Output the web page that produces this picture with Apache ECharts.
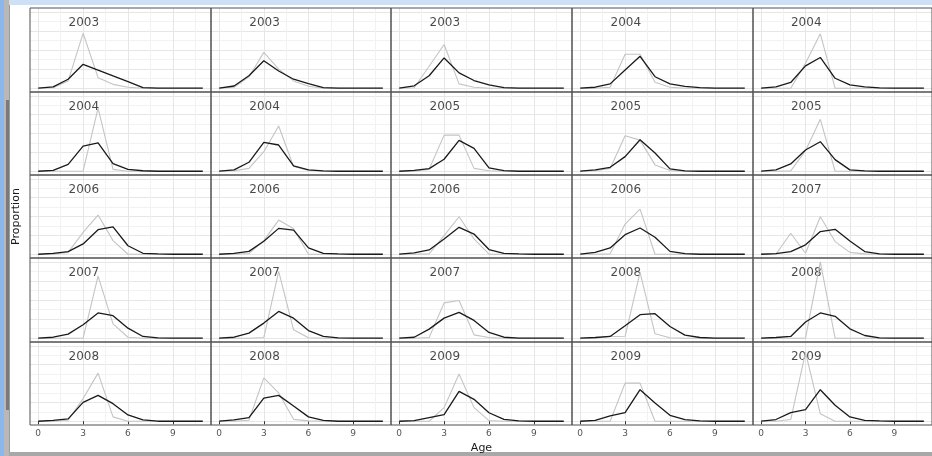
<!DOCTYPE html>
<html>
<head>
<meta charset="utf-8">
<script src="https://cdn.jsdelivr.net/npm/echarts@6/dist/echarts.min.js"></script>
<style>
html, body { margin: 0; padding: 0; background: #fff; }
#chart { width: 932px; height: 456px; }
</style>
</head>
<body>
<div id="chart"></div>
<script>
// ages on the x axis
var ages = [0, 1, 2, 3, 4, 5, 6, 7, 8, 9, 10, 11];
var ageTicks = [0, 3, 6, 9];
var ageMinor = [1.5, 4.5, 7.5, 10.5];
var propTicks = [0, 0.2, 0.4, 0.6, 0.8];
var propMinor = [0.1, 0.3, 0.5, 0.7];

// one year label per panel, row by row
var panelYears = [
    '2003', '2003', '2003', '2004', '2004',
    '2004', '2004', '2005', '2005', '2005',
    '2006', '2006', '2006', '2006', '2007',
    '2007', '2007', '2007', '2008', '2008',
    '2008', '2008', '2009', '2009', '2009'
];

// grey line (observed proportion at age)
var observed = [
    [0, 0.005, 0.076, 0.575, 0.11, 0.04, 0.01, 0, 0, 0, 0, 0],
    [0, 0.01, 0.118, 0.375, 0.2, 0.076, 0.02, 0, 0, 0, 0, 0],
    [0, 0.005, 0.23, 0.458, 0.045, 0.01, 0, 0, 0, 0, 0, 0],
    [0, 0, 0.01, 0.355, 0.355, 0.063, 0.01, 0, 0, 0, 0, 0],
    [0, 0, 0, 0.26, 0.57, 0, 0, 0, 0, 0, 0, 0],

    [0, 0, 0, 0, 0.67, 0.02, 0, 0, 0, 0, 0, 0],
    [0, 0.005, 0.03, 0.207, 0.48, 0.05, 0.01, 0, 0, 0, 0, 0],
    [0, 0, 0.02, 0.383, 0.383, 0.03, 0.005, 0, 0, 0, 0, 0],
    [0, 0.005, 0.03, 0.376, 0.33, 0.067, 0.007, 0, 0, 0, 0, 0],
    [0, 0, 0.004, 0.218, 0.55, 0, 0, 0, 0, 0, 0, 0],

    [0, 0, 0.02, 0.232, 0.415, 0.144, 0, 0, 0, 0, 0, 0],
    [0, 0, 0.007, 0.144, 0.362, 0.27, 0, 0, 0, 0, 0, 0],
    [0, 0, 0.004, 0.197, 0.397, 0.162, 0, 0, 0, 0, 0, 0],
    [0, 0, 0.004, 0.32, 0.478, 0, 0, 0, 0, 0, 0, 0],
    [0, 0, 0.222, 0.01, 0.397, 0.134, 0.02, 0.004, 0, 0, 0, 0],

    [0, 0, 0, 0, 0.65, 0.15, 0.01, 0, 0, 0, 0, 0],
    [0, 0, 0, 0.007, 0.70, 0.088, 0.004, 0, 0, 0, 0, 0],
    [0, 0, 0.007, 0.37, 0.394, 0.035, 0.007, 0, 0, 0, 0, 0],
    [0, 0, 0.018, 0.02, 0.69, 0.046, 0.004, 0, 0, 0, 0, 0],
    [0, 0, 0, 0, 0.80, 0, 0, 0, 0, 0, 0, 0],

    [0, 0, 0.01, 0.24, 0.51, 0.046, 0, 0, 0, 0, 0, 0],
    [0, 0, 0.01, 0.46, 0.30, 0.02, 0.004, 0, 0, 0, 0, 0],
    [0, 0, 0, 0.144, 0.5, 0.144, 0.007, 0, 0, 0, 0, 0],
    [0, 0, 0, 0.404, 0.404, 0, 0, 0, 0, 0, 0, 0],
    [0, 0, 0.018, 0.73, 0.08, 0, 0, 0, 0, 0, 0, 0]
];

// black line (fitted proportion at age)
var fitted = [
    [0, 0.013, 0.094, 0.25, 0.19, 0.129, 0.069, 0.005, 0, 0, 0, 0],
    [0, 0.023, 0.13, 0.287, 0.18, 0.094, 0.048, 0.005, 0, 0, 0, 0],
    [0, 0.025, 0.13, 0.317, 0.16, 0.08, 0.035, 0.005, 0, 0, 0, 0],
    [0, 0.01, 0.045, 0.19, 0.334, 0.12, 0.045, 0.018, 0.005, 0, 0, 0],
    [0, 0.014, 0.06, 0.234, 0.322, 0.104, 0.034, 0.014, 0.004, 0, 0, 0],

    [0, 0.01, 0.073, 0.267, 0.30, 0.08, 0.02, 0.005, 0, 0, 0, 0],
    [0, 0.014, 0.095, 0.306, 0.278, 0.056, 0.014, 0.004, 0, 0, 0, 0],
    [0, 0.01, 0.028, 0.127, 0.327, 0.243, 0.035, 0.007, 0, 0, 0, 0],
    [0, 0.014, 0.042, 0.155, 0.334, 0.193, 0.025, 0.004, 0, 0, 0, 0],
    [0, 0.014, 0.077, 0.225, 0.313, 0.123, 0.014, 0.004, 0, 0, 0, 0],

    [0, 0.01, 0.028, 0.109, 0.26, 0.29, 0.09, 0.01, 0.003, 0, 0, 0],
    [0, 0.01, 0.03, 0.137, 0.274, 0.256, 0.067, 0.01, 0.003, 0, 0, 0],
    [0, 0.014, 0.045, 0.162, 0.285, 0.214, 0.05, 0.01, 0.003, 0, 0, 0],
    [0, 0.02, 0.067, 0.207, 0.278, 0.18, 0.03, 0.007, 0, 0, 0, 0],
    [0, 0.007, 0.028, 0.1, 0.24, 0.264, 0.14, 0.028, 0.004, 0, 0, 0],

    [0, 0.01, 0.042, 0.14, 0.264, 0.236, 0.105, 0.018, 0.004, 0, 0, 0],
    [0, 0.01, 0.053, 0.158, 0.28, 0.21, 0.08, 0.018, 0.004, 0, 0, 0],
    [0, 0.01, 0.095, 0.21, 0.27, 0.186, 0.06, 0.01, 0, 0, 0, 0],
    [0, 0.007, 0.018, 0.13, 0.246, 0.257, 0.123, 0.032, 0.007, 0, 0, 0],
    [0, 0.007, 0.018, 0.17, 0.264, 0.229, 0.098, 0.028, 0.004, 0, 0, 0],

    [0, 0.01, 0.025, 0.2, 0.274, 0.186, 0.067, 0.014, 0, 0, 0, 0],
    [0, 0.014, 0.039, 0.246, 0.274, 0.162, 0.046, 0.01, 0, 0, 0, 0],
    [0, 0.007, 0.039, 0.07, 0.316, 0.232, 0.09, 0.02, 0.004, 0, 0, 0],
    [0, 0.01, 0.056, 0.091, 0.334, 0.193, 0.063, 0.018, 0.004, 0, 0, 0],
    [0, 0.018, 0.091, 0.123, 0.334, 0.169, 0.046, 0.01, 0.004, 0, 0, 0]
];

// layout
var FONT = 'DejaVu Sans';
var NCOL = 5, NROW = 5;
var colLeft = 30, colW = 180.7;
var rowTop = 8.3, rowH = 83.34;
var xMin = -0.55, xMax = 11.55;
var yMin = -0.04, yMax = 0.84;
var labelAt = [3.05, 0.685];

var chart = echarts.init(document.getElementById('chart'));

var grids = [], xAxes = [], yAxes = [], series = [];

for (var i = 0; i < panelYears.length; i++) {
    var r = Math.floor(i / NCOL), c = i % NCOL;
    var bottomRow = r === NROW - 1;
    var gl = Math.round(colLeft + c * colW), gr = Math.round(colLeft + (c + 1) * colW);
    var gt = Math.round(rowTop + r * rowH), gb = Math.round(rowTop + (r + 1) * rowH);
    grids.push({
        left: gl,
        top: gt,
        width: gr - gl,
        height: gb - gt,
        show: true,
        z: 1,
        borderColor: '#505050',
        borderWidth: 1,
        backgroundColor: 'transparent'
    });
    // major x
    xAxes.push({
        gridIndex: i, type: 'value', min: xMin, max: xMax,
        axisLine: { show: false },
        axisTick: { show: bottomRow, customValues: ageTicks, length: 3, lineStyle: { color: '#333' } },
        axisLabel: { show: bottomRow, customValues: ageTicks, fontSize: 9, color: '#555', margin: 4, fontFamily: FONT },
        splitLine: { show: true, lineStyle: { color: '#e6e6e6', width: 1 } },
        name: (bottomRow && c === 2) ? 'Age' : '',
        nameLocation: 'middle', nameGap: 18,
        nameTextStyle: { fontSize: 11, color: '#1a1a1a', fontFamily: FONT }
    });
    // minor x
    xAxes.push({
        gridIndex: i, type: 'value', min: xMin, max: xMax, position: 'bottom',
        axisLine: { show: false },
        axisTick: { show: false, customValues: ageMinor },
        axisLabel: { show: false, customValues: ageMinor },
        splitLine: { show: true, lineStyle: { color: '#f2f2f2', width: 1 } }
    });
    // major y
    yAxes.push({
        gridIndex: i, type: 'value', min: yMin, max: yMax,
        axisLine: { show: false },
        axisTick: { show: false, customValues: propTicks },
        axisLabel: { show: false, customValues: propTicks },
        splitLine: { show: true, lineStyle: { color: '#e6e6e6', width: 1 } },
        name: (c === 0 && r === 2) ? 'Proportion' : '',
        nameLocation: 'middle', nameGap: 8, nameRotate: 90,
        nameTextStyle: { fontSize: 11, color: '#1a1a1a', fontFamily: FONT }
    });
    // minor y
    yAxes.push({
        gridIndex: i, type: 'value', min: yMin, max: yMax, position: 'left',
        axisLine: { show: false },
        axisTick: { show: false, customValues: propMinor },
        axisLabel: { show: false, customValues: propMinor },
        splitLine: { show: true, lineStyle: { color: '#f2f2f2', width: 1 } }
    });

    series.push({
        type: 'line', xAxisIndex: 2 * i, yAxisIndex: 2 * i,
        data: ages.map(function (a, j) { return [a, this[j]]; }, observed[i]),
        symbol: 'none', silent: true,
        lineStyle: { color: '#c4c4c4', width: 1.1 }
    });
    series.push({
        type: 'line', xAxisIndex: 2 * i, yAxisIndex: 2 * i,
        data: ages.map(function (a, j) { return [a, this[j]]; }, fitted[i]),
        symbol: 'none', silent: true,
        lineStyle: { color: '#1a1a1a', width: 1.3 }
    });
    series.push({
        type: 'scatter', xAxisIndex: 2 * i, yAxisIndex: 2 * i,
        data: [labelAt], symbolSize: 1, silent: true,
        itemStyle: { color: 'rgba(0,0,0,0)' },
        label: {
            show: true, position: 'inside', formatter: panelYears[i],
            color: '#1a1a1a', fontSize: 12, fontFamily: FONT
        }
    });
}

var option = {
    animation: false,
    backgroundColor: '#fff',
    grid: grids,
    xAxis: xAxes,
    yAxis: yAxes,
    series: series,
    graphic: [
        // window frame around the screenshot
        { type: 'rect', shape: { x: 0, y: 0, width: 932, height: 5 }, style: { fill: '#cfe0f5' }, silent: true },
        { type: 'rect', shape: { x: 0, y: 0, width: 4, height: 456 }, style: { fill: '#8db6ea' }, silent: true },
        { type: 'rect', shape: { x: 4, y: 0, width: 5, height: 456 }, style: { fill: '#b8b8b8' }, silent: true },
        { type: 'rect', shape: { x: 6, y: 100, width: 3, height: 310 }, style: { fill: '#7a7a7a' }, silent: true },
        { type: 'rect', shape: { x: 9, y: 5, width: 1, height: 448 }, style: { fill: '#9a9a9a' }, silent: true },
        { type: 'rect', shape: { x: 9, y: 452, width: 923, height: 4 }, style: { fill: '#a8a8a8' }, silent: true }
    ]
};

chart.setOption(option);
</script>
</body>
</html>
